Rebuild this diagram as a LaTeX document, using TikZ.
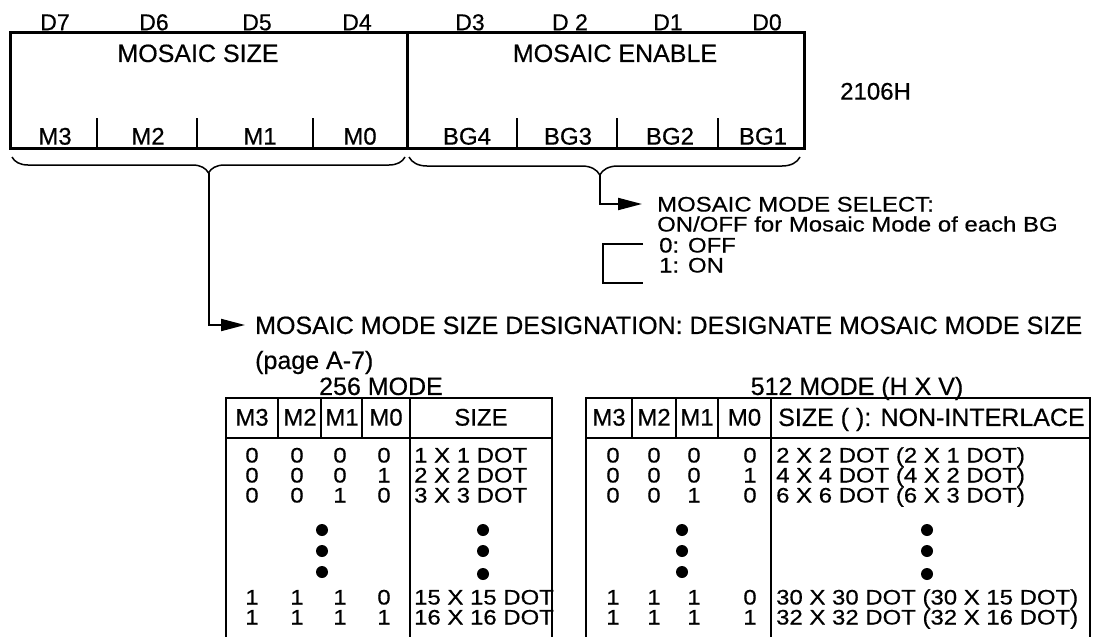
\documentclass[tikz,border=0pt]{standalone}
\usepackage{fontspec}
\setmainfont{Liberation Sans}[FakeBold=0.5]
\newfontfamily\rowfont{Liberation Sans}[FakeBold=0.5,FakeStretch=1.14]
\usetikzlibrary{arrows.meta,calc,decorations.pathreplacing}
\newcommand\myfs[1]{\fontsize{#1}{#1}\selectfont}
\begin{document}
\begin{tikzpicture}[x=1pt,y=-1pt,
  t22/.style={inner sep=0pt,text height=16.5pt,text depth=0pt,font=\myfs{23}},
  t24/.style={inner sep=0pt,text height=17.2pt,text depth=0pt,font=\myfs{24}},
  t25/.style={inner sep=0pt,text height=17.9pt,text depth=0pt,font=\myfs{25}},
  trow/.style={inner sep=0pt,text height=15pt,text depth=0pt,font=\rowfont\myfs{21}},
  regbox/.style={draw,line width=3pt,inner sep=0pt,minimum height=116pt,minimum width=397pt},
  tick/.style={line width=2.5pt},
  brc/.style={decorate,line width=1.5pt},
  arr/.style={line width=2pt,-{Triangle[length=24pt,width=12pt]}},
  tbl/.style={line width=2pt,line join=miter},
  bdot/.style={circle,fill,inner sep=0pt,minimum size=12pt},
]
\useasboundingbox (0,0) rectangle (1096,637);

% register
\node[regbox] (sizebox) at (208.5,90) {};
\node[regbox] (enbox) at (605.5,90) {};
\foreach \x in {97,197,313,517,617,718} \draw[tick] (\x,118) -- (\x,148);

\foreach \x/\t [count=\i] in {55/D7,154/D6,257/D5,357/D4,470/D3,570/{D 2},668/D1,767/D0}
  \node[t22] (d\i) at (\x,22) {\t};
\node[t25] (msize) at (198,53) {MOSAIC SIZE};
\node[t25] (menable) at (615,53) {MOSAIC ENABLE};
\foreach \x/\t [count=\i] in {55/M3,148/M2,260/M1,360/M0,467/BG4,568/BG3,670/BG2,763/BG1}
  \node[t24] (f\i) at (\x,136) {\t};
\node[t24,anchor=west] (addr) at (840,91) {2106H};

% braces
\draw[brc,decoration={brace,amplitude=16pt}] (405,157) -- (12,157);
\draw[brc,decoration={brace,amplitude=18pt,aspect=0.512}] (800,157) -- (409,157);
\coordinate (b1tip) at (208.5,173);
\coordinate (b2tip) at (600,175);

% mosaic enable annotation
\node[trow,anchor=west,inner xsep=15pt] (select) at (642,204) {MOSAIC MODE SELECT:};
\node[trow,anchor=west] (onoff) at (657,224) {ON/OFF for Mosaic Mode of each BG};
\node[trow,anchor=west] (off) at (659,245) {0: OFF};
\node[trow,anchor=west] (on) at (659,265) {1: ON};
\draw[arr] (b2tip) |- (select.west);
\draw[line width=2pt,line join=miter] (643,244) -- (603,244) -- (603,283) -- (643,283);

% mosaic size annotation
\node[t25,anchor=west,inner xsep=10pt] (desig) at (245,325) {MOSAIC MODE SIZE DESIGNATION: DESIGNATE MOSAIC MODE SIZE};
\node[t25,anchor=west] (page) at (255,360) {(page A-7)};
\draw[arr] (b1tip) |- (desig.west);

% table titles
\node[t25] (t1title) at (381,386) {256 MODE};
\node[t25] (t2title) at (857,386) {512 MODE (H X V)};

% table 1
\draw[tbl] (226,637) -- (226,398) -- (552,398) -- (552,637);
\draw[tbl] (226,438) -- (552,438);
\draw[tbl] (410,398) -- (410,637);
\foreach \x in {278,321,362} \draw[tbl] (\x,398) -- (\x,438);
\foreach \x/\t [count=\i] in {252/M3,300/M2,342/M1,386/M0,481/SIZE}
  \node[t24] (ha\i) at (\x,417) {\t};
\foreach \y/\a/\b/\c/\d/\s [count=\i] in
  {455/0/0/0/0/{1 X 1 DOT},475/0/0/0/1/{2 X 2 DOT},495/0/0/1/0/{3 X 3 DOT},
   597/1/1/1/0/{15 X 15 DOT},617/1/1/1/1/{16 X 16 DOT}} {
  \node[trow] (ra\i a) at (252,\y) {\a};
  \node[trow] (ra\i b) at (297,\y) {\b};
  \node[trow] (ra\i c) at (340,\y) {\c};
  \node[trow] (ra\i d) at (384,\y) {\d};
  \node[trow,anchor=west] (ra\i s) at (414,\y) {\s};
}
\foreach \y/\z [count=\i] in {530/530,551/551,572/574} {
  \node[bdot] (da\i) at (322,\y) {};
  \node[bdot] (sa\i) at (483,\z) {};
}

% table 2
\draw[tbl] (586,637) -- (586,398) -- (1090,398) -- (1090,637);
\draw[tbl] (586,438) -- (1090,438);
\draw[tbl] (771,398) -- (771,637);
\foreach \x in {632,676,718} \draw[tbl] (\x,398) -- (\x,438);
\foreach \x/\t [count=\i] in {609/M3,654/M2,697/M1,744.5/M0}
  \node[t24] (hb\i) at (\x,417) {\t};
\node[t25,anchor=west] (hb5) at (778,417) {SIZE ( ): NON-INTERLACE};
\foreach \y/\a/\b/\c/\d/\s [count=\i] in
  {455/0/0/0/0/{2 X 2 DOT (2 X 1 DOT)},475/0/0/0/1/{4 X 4 DOT (4 X 2 DOT)},495/0/0/1/0/{6 X 6 DOT (6 X 3 DOT)},
   597/1/1/1/0/{30 X 30 DOT (30 X 15 DOT)},617/1/1/1/1/{32 X 32 DOT (32 X 16 DOT)}} {
  \node[trow] (rb\i a) at (613,\y) {\a};
  \node[trow] (rb\i b) at (654,\y) {\b};
  \node[trow] (rb\i c) at (694,\y) {\c};
  \node[trow] (rb\i d) at (750,\y) {\d};
  \node[trow,anchor=west] (rb\i s) at (776,\y) {\s};
}
\foreach \y/\z [count=\i] in {530/530,551/551,572/574} {
  \node[bdot] (db\i) at (682,\y) {};
  \node[bdot] (sb\i) at (927,\z) {};
}
\end{tikzpicture}
\end{document}
